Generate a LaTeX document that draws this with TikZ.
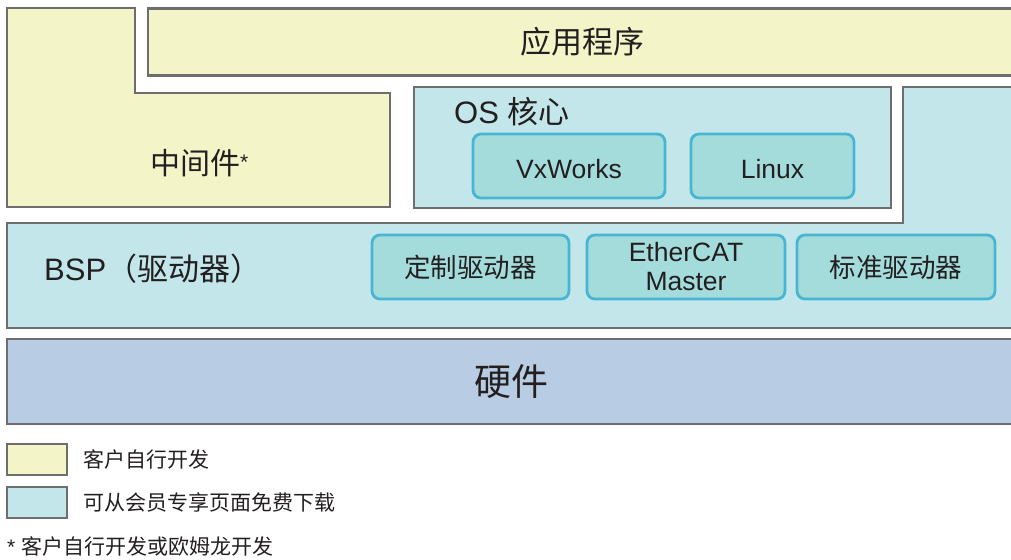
\documentclass[tikz,border=0pt]{standalone}
\usepackage{fontspec}
\setmainfont{Liberation Sans}
\newfontfamily\cjk{Noto Sans CJK SC}
\usetikzlibrary{positioning}

\definecolor{ink}{HTML}{231F20}
\definecolor{edgegray}{HTML}{6E6E6E}
\definecolor{ownfill}{HTML}{F3F5C9}
\definecolor{freefill}{HTML}{C2E6EA}
\definecolor{drvfill}{HTML}{A4DCDC}
\definecolor{drvline}{HTML}{48B6D2}
\definecolor{hwfill}{HTML}{B8CDE4}

\tikzset{
	layer/.style={draw=edgegray, line width=2.5pt, outer sep=0pt},
	own/.style={layer, fill=ownfill},
	free/.style={layer, fill=freefill},
	lbl/.style={inner sep=0pt},
	drv/.style={draw=drvline, line width=2.8pt, fill=drvfill, rounded corners=8pt,
		minimum height=64pt, inner sep=0pt, outer sep=0pt, align=center,
		font=\fontsize{26.5}{29}\selectfont},
}

\begin{document}
\begin{tikzpicture}[x=1pt, y=-1pt, text=ink]
		\useasboundingbox (0,0) rectangle (1011,559);
		% layers the customer writes
		\draw[own] (7,8) -- (135,8) -- (135,93) -- (390,93) -- (390,207) -- (7,207) -- cycle;
		\node[lbl, font=\fontsize{30}{30}\selectfont\cjk] (mid) at (195,163)
			{中间件\rlap{\raisebox{5pt}{\fontsize{21}{21}\selectfont\rmfamily *}}};
		\node[own, minimum width=868pt, minimum height=67pt, font=\fontsize{31}{31}\selectfont\cjk] (app) at (582,42) {应用程序};
		% layers from the member page
		\node[free, minimum width=477pt, minimum height=121pt, anchor=north west] (os) at (414,87) {};
		\node[lbl, anchor=west, font=\fontsize{31}{31}\selectfont] (oslbl) at (454,112) {OS {\cjk 核心}};
		\draw[free] (7,223) -- (903,223) -- (903,87) -- (1016,87) -- (1016,328) -- (7,328) -- cycle;
		\node[lbl, anchor=west, font=\fontsize{31}{31}\selectfont] (bsp) at (44,269) {BSP{\cjk （驱动器）}};
		\node[drv, minimum width=192pt] (vx) at (569,166) {\raisebox{-3pt}[\height][0pt]{VxWorks}};
		\node[drv, minimum width=163pt, right=26pt of vx] (linux) {\raisebox{-3pt}[\height][0pt]{Linux}};
		\node[drv, minimum width=197pt] (custom) at (470.5,267) {\cjk 定制驱动器};
		\node[drv, minimum width=198pt, right=18pt of custom] (ecat) {EtherCAT\\Master};
		\node[drv, minimum width=198pt, right=12pt of ecat] (std) {\cjk 标准驱动器};
		% hardware
		\node[layer, fill=hwfill, minimum width=1009pt, minimum height=85pt, anchor=north west,
			font=\fontsize{37}{37}\selectfont\cjk] (hw) at (7,339) {硬件};
		% key
		\node[own, minimum width=60pt, minimum height=31pt, anchor=north west] (keyown) at (7,444) {};
		\node[lbl, right=16pt of keyown, font=\fontsize{21}{21}\selectfont\cjk] (keyowntxt) {客户自行开发};
		\node[free, minimum width=60pt, minimum height=31pt, anchor=north west] (keyfree) at (7,487) {};
		\node[lbl, right=16pt of keyfree, font=\fontsize{21}{21}\selectfont\cjk] (keyfreetxt) {可从会员专享页面免费下载};
		\node[lbl, anchor=west, font=\fontsize{21}{21}\selectfont] (note) at (7,546) {* {\cjk 客户自行开发或欧姆龙开发}};
\end{tikzpicture}
\end{document}
